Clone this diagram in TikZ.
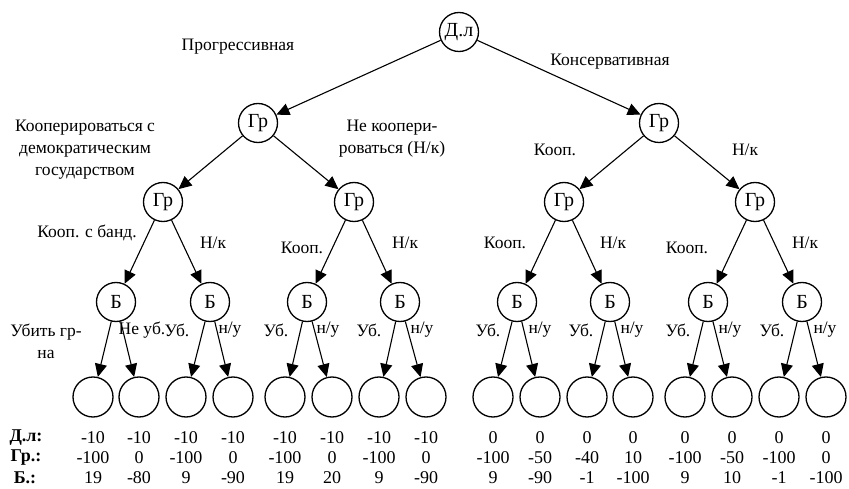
\documentclass[tikz,border=0pt]{standalone}
\usepackage{fontspec}
\setmainfont{Liberation Serif}
\usetikzlibrary{arrows.meta}

\begin{document}
\begin{tikzpicture}[x=1pt, y=-1pt,
    player/.style={circle, draw, line width=1.3pt, minimum size=39pt, inner sep=0pt, font=\fontsize{20}{22}\selectfont},
    leaf/.style={circle, draw, line width=1.3pt, minimum size=40pt, inner sep=0pt},
    move/.style={line width=1.1pt, -{Triangle[length=13pt, width=12pt]}},
    lbl/.style={font=\fontsize{17.5}{22}\selectfont, align=center, inner sep=0pt},
    pay/.style={font=\fontsize{18}{20}\selectfont, inner sep=0pt}]
    \useasboundingbox (0,0) rectangle (849,489);

    % Decision nodes
    \node[player] (dl) at (459,32) {Д.л};
    \node[player] (g1) at (258,123) {Гр};
    \node[player] (g2) at (659,123) {Гр};
    \node[player] (g11) at (163,202) {Гр};
    \node[player] (g12) at (354,202) {Гр};
    \node[player] (g21) at (564,202) {Гр};
    \node[player] (g22) at (755,202) {Гр};
    \foreach \x [count=\i] in {116,210,307,400,517,610,708,802}
        \node[player] (b\i) at (\x,302) {Б};

    % Terminal nodes and payoffs
    \foreach \x/\d/\g/\b [count=\i] in {93/-10/-100/19, 139/-10/0/-80, 186/-10/-100/9, 233/-10/0/-90,
            285/-10/-100/19, 332/-10/0/20, 379/-10/-100/9, 426/-10/0/-90,
            493/0/-100/9, 540/0/-50/-90, 587/0/-40/-1, 633/0/10/-100,
            685/0/-100/9, 732/0/-50/10, 779/0/-100/-1, 826/0/0/-100} {
        \node[leaf] (l\i) at (\x,397) {};
        \node[pay] (pd\i) at (\x,438) {\d};
        \node[pay] (pg\i) at (\x,458) {\g};
        \node[pay] (pb\i) at (\x,478) {\b};
    }
    \node[pay, font=\fontsize{18}{20}\selectfont\bfseries] (hd) at (26,438) {Д.л:};
    \node[pay, font=\fontsize{18}{20}\selectfont\bfseries] (hg) at (26,458) {Гр.:};
    \node[pay, font=\fontsize{18}{20}\selectfont\bfseries] (hb) at (25,478) {Б.:};

    % Moves
    \foreach \p/\c in {dl/g1, dl/g2, g1/g11, g1/g12, g2/g21, g2/g22,
            g11/b1, g11/b2, g12/b3, g12/b4, g21/b5, g21/b6, g22/b7, g22/b8}
        \draw[move] (\p) -- (\c);
    \foreach \i in {1,...,8} {
        \pgfmathtruncatemacro\la{2*\i-1}
        \pgfmathtruncatemacro\lb{2*\i}
        \draw[move] (b\i) -- (l\la);
        \draw[move] (b\i) -- (l\lb);
    }

    % Move labels
    \node[lbl] (progr) at (238,47) {Прогрессивная};
    \node[lbl] (konserv) at (610,62) {Консервативная};
    \node[lbl] (koopdem) at (85,150) {Кооперироваться с\\демократическим\\государством};
    \node[lbl] (nekoop) at (392,139) {Не коопери-\\роваться (Н/к)};
    \node[lbl] (koop2) at (555,150) {Кооп.};
    \node[lbl] (nk2) at (745,150) {Н/к};
    \node[lbl] (koopband) at (87,233) {Кооп. с банд.};
    \node[lbl] (nk11) at (213,243) {Н/к};
    \node[lbl] (koop12) at (302,248) {Кооп.};
    \node[lbl] (nk12) at (405,243) {Н/к};
    \node[lbl] (koop21) at (505,243) {Кооп.};
    \node[lbl] (nk21) at (613,243) {Н/к};
    \node[lbl] (koop22) at (687,248) {Кооп.};
    \node[lbl] (nk22) at (805,243) {Н/к};
    \node[lbl] (ubit) at (46,341) {Убить гр-\\на};
    \node[lbl] (neub) at (142,330) {Не уб.};
    \foreach \x [count=\i] in {177,276,369,488,581,678,772}
        \node[lbl] (ub\i) at (\x,330) {Уб.};
    \foreach \x [count=\i] in {230,328,422,540,632,730,825}
        \node[lbl] (nu\i) at (\x,330) {н/у};
\end{tikzpicture}
\end{document}
